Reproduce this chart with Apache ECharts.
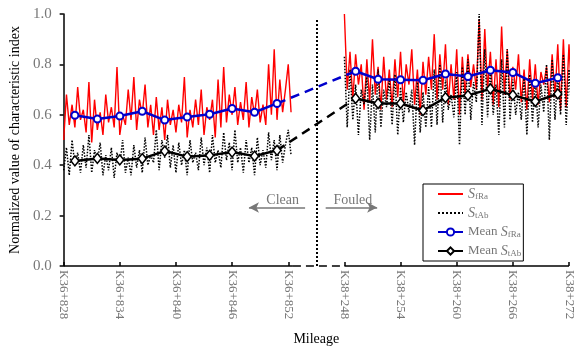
<!DOCTYPE html>
<html><head><meta charset="utf-8">
<script src="https://cdn.jsdelivr.net/npm/echarts@6/dist/echarts.min.js"></script>
<style>html,body{margin:0;padding:0;background:#fff}#c{width:579px;height:351px}</style>
</head><body><div id="c"></div>
<script>
// ---- data ----
const xTickLabels = ['K36+828','K36+834','K36+840','K36+846','K36+852','K38+248','K38+254','K38+260','K38+266','K38+272'];
const sampleStep = 0.3;       // m between raw samples (in chart units)
const leftStart = 0;          // chart position of K36+828
const rightStart = 30;        // chart position of K38+248
const gapPos = 27;            // chart position of the divider

const sfRaClean = [
 0.50,0.68,0.56,0.64,0.55,0.71,0.58,0.62,
 0.53,0.73,0.49,0.66,0.54,0.61,0.52,0.68,
 0.57,0.63,0.55,0.79,0.52,0.60,0.56,0.70,
 0.58,0.75,0.54,0.66,0.60,0.72,0.55,0.64,
 0.52,0.67,0.54,0.63,0.50,0.66,0.56,0.62,
 0.53,0.64,0.57,0.75,0.51,0.62,0.55,0.66,
 0.56,0.70,0.52,0.63,0.58,0.66,0.51,0.74,
 0.55,0.79,0.57,0.68,0.60,0.71,0.56,0.65,
 0.58,0.73,0.55,0.67,0.60,0.70,0.57,0.64,
 0.56,0.80,0.60,0.86,0.58,0.74,0.61,0.70,
 0.80,0.61];
const stAbClean = [
 0.38,0.47,0.36,0.50,0.40,0.45,0.37,0.48,
 0.39,0.52,0.37,0.46,0.41,0.49,0.36,0.44,
 0.38,0.47,0.35,0.45,0.40,0.50,0.37,0.43,
 0.36,0.48,0.39,0.46,0.37,0.51,0.40,0.44,
 0.41,0.54,0.38,0.50,0.43,0.52,0.39,0.48,
 0.37,0.49,0.40,0.46,0.36,0.50,0.41,0.45,
 0.38,0.51,0.40,0.47,0.37,0.52,0.41,0.46,
 0.39,0.53,0.42,0.49,0.38,0.54,0.41,0.47,
 0.37,0.50,0.41,0.47,0.36,0.51,0.40,0.46,
 0.39,0.53,0.42,0.50,0.38,0.52,0.41,0.48,
 0.54,0.44];
const sfRaFouled = [
 1.00,0.70,0.85,0.66,0.84,0.72,0.80,0.62,
 0.82,0.65,0.90,0.68,0.79,0.62,0.83,0.66,
 0.78,0.63,0.82,0.67,0.85,0.64,0.80,0.72,
 0.86,0.64,0.78,0.60,0.81,0.68,0.83,0.70,
 0.92,0.66,0.84,0.70,0.88,0.64,0.80,0.66,
 0.86,0.60,0.83,0.68,0.84,0.71,0.80,0.70,
 0.98,0.66,0.94,0.70,0.85,0.64,0.82,0.63,
 0.95,0.68,0.86,0.66,0.79,0.70,0.84,0.65,
 0.78,0.62,0.82,0.66,0.80,0.64,0.77,0.72,
 0.79,0.65,0.84,0.67,0.88,0.62,0.90,0.63,
 0.88,0.66];
const stAbFouled = [
 0.83,0.55,0.78,0.58,0.72,0.52,0.70,0.64,
 0.75,0.50,0.72,0.53,0.78,0.55,0.70,0.63,
 0.74,0.56,0.76,0.52,0.71,0.57,0.69,0.61,
 0.70,0.48,0.73,0.53,0.69,0.55,0.71,0.55,
 0.78,0.56,0.80,0.57,0.74,0.62,0.68,0.59,
 0.77,0.48,0.79,0.60,0.82,0.58,0.73,0.65,
 1.00,0.56,0.86,0.59,0.78,0.60,0.72,0.52,
 0.82,0.55,0.86,0.58,0.74,0.60,0.69,0.58,
 0.75,0.52,0.76,0.57,0.74,0.55,0.72,0.61,
 0.80,0.50,0.82,0.58,0.76,0.60,0.84,0.56,
 0.78,0.60];

const meanXClean  = [1.2,3.6,6.0,8.4,10.8,13.2,15.6,18.0,20.4,22.8];
const meanXFouled = [31.2,33.6,36.0,38.4,40.8,43.2,45.6,48.0,50.4,52.8];
const meanSfRaClean  = [0.598,0.583,0.595,0.614,0.579,0.591,0.602,0.625,0.610,0.645];
const meanStAbClean  = [0.417,0.427,0.421,0.426,0.456,0.434,0.439,0.452,0.436,0.459];
const meanSfRaFouled = [0.773,0.741,0.739,0.737,0.762,0.752,0.777,0.768,0.725,0.747];
const meanStAbFouled = [0.665,0.645,0.645,0.617,0.668,0.677,0.703,0.678,0.653,0.683];

// ---- build ----
const serif = 'Liberation Serif';
const grey = '#777';
function raw(start, vals){ return vals.map((v,i)=>[+(start + i*sampleStep).toFixed(2), v]); }
function pts(xs, ys){ return xs.map((x,i)=>[x, ys[i]]); }

const NAME = {a:'SfRa', b:'StAb', c:'Mean SfRa', d:'Mean StAb'};
const LEGEND_TXT = {
  'SfRa': '{i|S}{s|fRa}',
  'StAb': '{i|S}{s|tAb}',
  'Mean SfRa': '{n|Mean }{i|S}{s|fRa}',
  'Mean StAb': '{n|Mean }{i|S}{s|tAb}'
};

const redStyle = {color:'#ff0000', width:1.4};
const dotStyle = {color:'#000', width:1.5, type:'dotted'};
const blue = '#0000cc';

function rawSeries(name, data, ls){
  return {name, type:'line', data, symbol:'none', lineStyle:ls, itemStyle:{color:ls.color}, z:2};
}
function meanSeries(name, data, color, symbol, size, bw){
  return {name, type:'line', data, symbol, symbolSize:size, showSymbol:true,
    lineStyle:{color, width:2.5}, itemStyle:{color:'#fff', borderColor:color, borderWidth:bw}, z:5};
}

const series = [
  rawSeries(NAME.a, raw(leftStart, sfRaClean), redStyle),
  rawSeries(NAME.a, raw(rightStart, sfRaFouled), redStyle),
  rawSeries(NAME.b, raw(leftStart, stAbClean), dotStyle),
  rawSeries(NAME.b, raw(rightStart, stAbFouled), dotStyle),
  {name:'linkA', type:'line', symbol:'none', z:4,
   data:[[meanXClean[9], meanSfRaClean[9]],[meanXFouled[0], meanSfRaFouled[0]]],
   lineStyle:{color:blue, width:2.5, type:[9,6]}},
  {name:'linkB', type:'line', symbol:'none', z:4,
   data:[[meanXClean[9], meanStAbClean[9]],[meanXFouled[0], meanStAbFouled[0]]],
   lineStyle:{color:'#000', width:2.5, type:[9,6]}},
  meanSeries(NAME.c, pts(meanXClean, meanSfRaClean), blue, 'circle', 7, 2),
  meanSeries(NAME.c, pts(meanXFouled, meanSfRaFouled), blue, 'circle', 7, 2),
  meanSeries(NAME.d, pts(meanXClean, meanStAbClean), '#000', 'diamond', [8,10], 1.5),
  meanSeries(NAME.d, pts(meanXFouled, meanStAbFouled), '#000', 'diamond', [8,10], 1.5),
  {name:'helper', type:'line', data:[], silent:true, z:6,
   markLine:{silent:true, symbol:'none', animation:false, label:{show:false},
     data:[
       [{coord:[0,0], lineStyle:{color:'#000', width:1.5, type:'solid'}},{coord:[24.5,0]}],
       [{coord:[24.5,0], lineStyle:{color:'#000', width:1.5, type:[8,5]}},{coord:[rightStart,0]}],
       [{coord:[rightStart,0], lineStyle:{color:'#000', width:1.5, type:'solid'}},{coord:[54,0]}],
       [{coord:[gapPos,0], lineStyle:{color:'#000', width:2, type:[2,2]}},{coord:[gapPos,0.98]}],
       [{coord:[25.8,0.232], symbol:'none', lineStyle:{color:grey, width:1.5, type:'solid'}},{coord:[19.8,0.232], symbol:'arrow', symbolSize:[8,10]}],
       [{coord:[28.0,0.232], symbol:'none', lineStyle:{color:grey, width:1.5, type:'solid'}},{coord:[33.5,0.232], symbol:'arrow', symbolSize:[8,10]}]
     ]},
   markPoint:{silent:true, animation:false, symbol:'circle', symbolSize:0,
     label:{show:true, position:'inside', color:grey, fontFamily:serif, fontSize:14},
     data:[
       {coord:[23.4,0.262], label:{formatter:'Clean'}},
       {coord:[30.9,0.262], label:{formatter:'Fouled'}}
     ]}
  }
];

const chart = echarts.init(document.getElementById('c'), null, {renderer:'canvas'});
chart.setOption({
  animation:false,
  backgroundColor:'#fff',
  grid:{left:58, right:10, top:14, bottom:78, containLabel:false},
  xAxis:{type:'value', min:0, max:54, interval:6,
    name:'Mileage', nameLocation:'middle', nameGap:66,
    nameTextStyle:{color:'#000', fontFamily:serif, fontSize:14},
    axisLine:{show:false},
    axisTick:{show:true, inside:true, length:4, lineStyle:{color:'#000', width:1.5}},
    axisLabel:{rotate:-90, margin:4, color:grey, fontFamily:serif, fontSize:13,
      formatter:v=>xTickLabels[Math.round(v/6)] || ''},
    splitLine:{show:false}},
  yAxis:{type:'value', min:0, max:1, interval:0.2,
    name:'Normalized value of characteristic index', nameLocation:'middle', nameGap:38,
    nameTextStyle:{color:'#000', fontFamily:serif, fontSize:14},
    axisLine:{show:true, lineStyle:{color:'#000', width:1.5}},
    axisTick:{show:true, inside:false, length:4, lineStyle:{color:'#000', width:1.5}},
    axisLabel:{margin:12, color:grey, fontFamily:serif, fontSize:15, formatter:v=>v.toFixed(1)},
    splitLine:{show:false}},
  legend:{data:[
      {name:NAME.a, itemStyle:{opacity:0}},
      {name:NAME.b, itemStyle:{opacity:0}},
      {name:NAME.c},
      {name:NAME.d}],
    orient:'vertical', left:423, top:184,
    padding:[3,2,3,14], itemGap:5, itemWidth:25, itemHeight:9,
    borderColor:'#000', borderWidth:1, backgroundColor:'#fff',
    formatter:n=>LEGEND_TXT[n],
    textStyle:{color:grey, fontFamily:serif, fontSize:13, lineHeight:14,
      rich:{
        n:{color:grey, fontFamily:serif, fontSize:13, lineHeight:14},
        i:{color:grey, fontFamily:serif, fontSize:14, fontStyle:'italic', lineHeight:14},
        s:{color:grey, fontFamily:serif, fontSize:9, verticalAlign:'bottom', lineHeight:14, padding:[4,0,0,0]}
      }}},
  series
});
</script></body></html>
